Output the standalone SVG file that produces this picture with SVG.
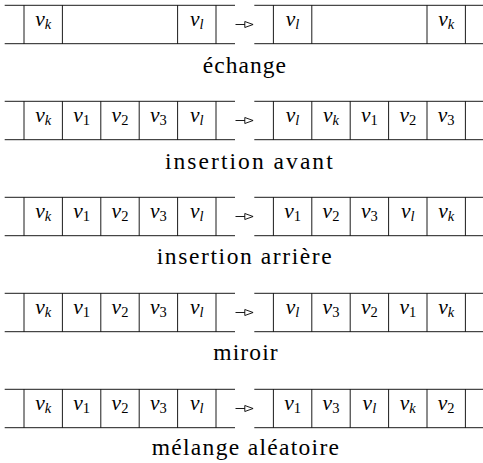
<svg xmlns="http://www.w3.org/2000/svg" xmlns:xlink="http://www.w3.org/1999/xlink" width="483" height="463" viewBox="0 0 483 463">
<style>
.ln{stroke:#000;stroke-width:0.9;fill:none}
text{font-family:'Liberation Serif','DejaVu Serif','Times New Roman',serif}
.m{font-size:21.5px;font-style:italic;text-anchor:middle;fill:#000}
.s{font-size:14.5px}
.n{font-style:normal}
.cap{font-size:23.5px;fill:#000}
</style>
<defs>
<path id="Lfull" d="M4.7,0H235M4.7,38.4H235M24,0V38.4M62.4,0V38.4M100.8,0V38.4M139.2,0V38.4M177.6,0V38.4M216,0V38.4"/>
<path id="Lswap" d="M4.7,0H235M4.7,38.4H235M24,0V38.4M62.4,0V38.4M177.6,0V38.4M216,0V38.4"/>
<path id="Rfull" d="M254.3,0H484M254.3,38.4H484M273.4,0V38.4M311.8,0V38.4M350.2,0V38.4M388.6,0V38.4M427,0V38.4M465.4,0V38.4"/>
<path id="Rswap" d="M254.3,0H484M254.3,38.4H484M273.4,0V38.4M311.8,0V38.4M427,0V38.4M465.4,0V38.4"/>
<marker id="ah" markerUnits="userSpaceOnUse" markerWidth="10" markerHeight="8" refX="0.2" refY="3.2" orient="auto" overflow="visible">
<path d="M0,0.2L8.3,3.2L0,6.2Z" fill="#fff" stroke="#000" stroke-width="0.9"/>
</marker>
</defs>

<!-- Row 1: échange -->
<g id="row1-before">
<use xlink:href="#Lswap" class="ln" y="5.3"/>
<text class="m" x="43.2" y="26">v<tspan class="s" dy="3">k</tspan></text>
<text class="m" x="196.8" y="26">v<tspan class="s" dy="3">l</tspan></text>
</g>
<g id="row1-after">
<use xlink:href="#Rswap" class="ln" y="5.3"/>
<text class="m" x="292.6" y="26">v<tspan class="s" dy="3">l</tspan></text>
<text class="m" x="446.2" y="26">v<tspan class="s" dy="3">k</tspan></text>
</g>
<g id="caption1"><text class="cap" x="202.7" y="73.3" textLength="83.3" lengthAdjust="spacing">échange</text></g>

<!-- Row 2: insertion avant -->
<g id="row2-before">
<use xlink:href="#Lfull" class="ln" y="101.3"/>
<text class="m" x="43.2" y="122">v<tspan class="s" dy="3">k</tspan></text>
<text class="m" x="81.6" y="122">v<tspan class="s n" dy="3">1</tspan></text>
<text class="m" x="120" y="122">v<tspan class="s n" dy="3">2</tspan></text>
<text class="m" x="158.4" y="122">v<tspan class="s n" dy="3">3</tspan></text>
<text class="m" x="196.8" y="122">v<tspan class="s" dy="3">l</tspan></text>
</g>
<g id="row2-after">
<use xlink:href="#Rfull" class="ln" y="101.3"/>
<text class="m" x="292.6" y="122">v<tspan class="s" dy="3">l</tspan></text>
<text class="m" x="331" y="122">v<tspan class="s" dy="3">k</tspan></text>
<text class="m" x="369.4" y="122">v<tspan class="s n" dy="3">1</tspan></text>
<text class="m" x="407.8" y="122">v<tspan class="s n" dy="3">2</tspan></text>
<text class="m" x="446.2" y="122">v<tspan class="s n" dy="3">3</tspan></text>
</g>
<g id="caption2"><text class="cap" x="165" y="168.5" textLength="167.7" lengthAdjust="spacing">insertion avant</text></g>

<!-- Row 3: insertion arrière -->
<g id="row3-before">
<use xlink:href="#Lfull" class="ln" y="197.3"/>
<text class="m" x="43.2" y="218">v<tspan class="s" dy="3">k</tspan></text>
<text class="m" x="81.6" y="218">v<tspan class="s n" dy="3">1</tspan></text>
<text class="m" x="120" y="218">v<tspan class="s n" dy="3">2</tspan></text>
<text class="m" x="158.4" y="218">v<tspan class="s n" dy="3">3</tspan></text>
<text class="m" x="196.8" y="218">v<tspan class="s" dy="3">l</tspan></text>
</g>
<g id="row3-after">
<use xlink:href="#Rfull" class="ln" y="197.3"/>
<text class="m" x="292.6" y="218">v<tspan class="s n" dy="3">1</tspan></text>
<text class="m" x="331" y="218">v<tspan class="s n" dy="3">2</tspan></text>
<text class="m" x="369.4" y="218">v<tspan class="s n" dy="3">3</tspan></text>
<text class="m" x="407.8" y="218">v<tspan class="s" dy="3">l</tspan></text>
<text class="m" x="446.2" y="218">v<tspan class="s" dy="3">k</tspan></text>
</g>
<g id="caption3"><text class="cap" x="156.7" y="264.3" textLength="175" lengthAdjust="spacing">insertion arrière</text></g>

<!-- Row 4: miroir -->
<g id="row4-before">
<use xlink:href="#Lfull" class="ln" y="293.3"/>
<text class="m" x="43.2" y="314">v<tspan class="s" dy="3">k</tspan></text>
<text class="m" x="81.6" y="314">v<tspan class="s n" dy="3">1</tspan></text>
<text class="m" x="120" y="314">v<tspan class="s n" dy="3">2</tspan></text>
<text class="m" x="158.4" y="314">v<tspan class="s n" dy="3">3</tspan></text>
<text class="m" x="196.8" y="314">v<tspan class="s" dy="3">l</tspan></text>
</g>
<g id="row4-after">
<use xlink:href="#Rfull" class="ln" y="293.3"/>
<text class="m" x="292.6" y="314">v<tspan class="s" dy="3">l</tspan></text>
<text class="m" x="331" y="314">v<tspan class="s n" dy="3">3</tspan></text>
<text class="m" x="369.4" y="314">v<tspan class="s n" dy="3">2</tspan></text>
<text class="m" x="407.8" y="314">v<tspan class="s n" dy="3">1</tspan></text>
<text class="m" x="446.2" y="314">v<tspan class="s" dy="3">k</tspan></text>
</g>
<g id="caption4"><text class="cap" x="213.3" y="360" textLength="64.4" lengthAdjust="spacing">miroir</text></g>

<!-- Row 5: mélange aléatoire -->
<g id="row5-before">
<use xlink:href="#Lfull" class="ln" y="389.3"/>
<text class="m" x="43.2" y="410">v<tspan class="s" dy="3">k</tspan></text>
<text class="m" x="81.6" y="410">v<tspan class="s n" dy="3">1</tspan></text>
<text class="m" x="120" y="410">v<tspan class="s n" dy="3">2</tspan></text>
<text class="m" x="158.4" y="410">v<tspan class="s n" dy="3">3</tspan></text>
<text class="m" x="196.8" y="410">v<tspan class="s" dy="3">l</tspan></text>
</g>
<g id="row5-after">
<use xlink:href="#Rfull" class="ln" y="389.3"/>
<text class="m" x="292.6" y="410">v<tspan class="s n" dy="3">1</tspan></text>
<text class="m" x="331" y="410">v<tspan class="s n" dy="3">3</tspan></text>
<text class="m" x="369.4" y="410">v<tspan class="s" dy="3">l</tspan></text>
<text class="m" x="407.8" y="410">v<tspan class="s" dy="3">k</tspan></text>
<text class="m" x="446.2" y="410">v<tspan class="s n" dy="3">2</tspan></text>
</g>
<g id="caption5"><text class="cap" x="151.7" y="455.3" textLength="187.3" lengthAdjust="spacing">mélange aléatoire</text></g>

<g id="connectors" class="ln" marker-end="url(#ah)">
<line x1="235.5" y1="24.5" x2="245" y2="24.5"/>
<line x1="235.5" y1="120.5" x2="245" y2="120.5"/>
<line x1="235.5" y1="216.5" x2="245" y2="216.5"/>
<line x1="235.5" y1="312.5" x2="245" y2="312.5"/>
<line x1="235.5" y1="408.5" x2="245" y2="408.5"/>
</g>
</svg>
